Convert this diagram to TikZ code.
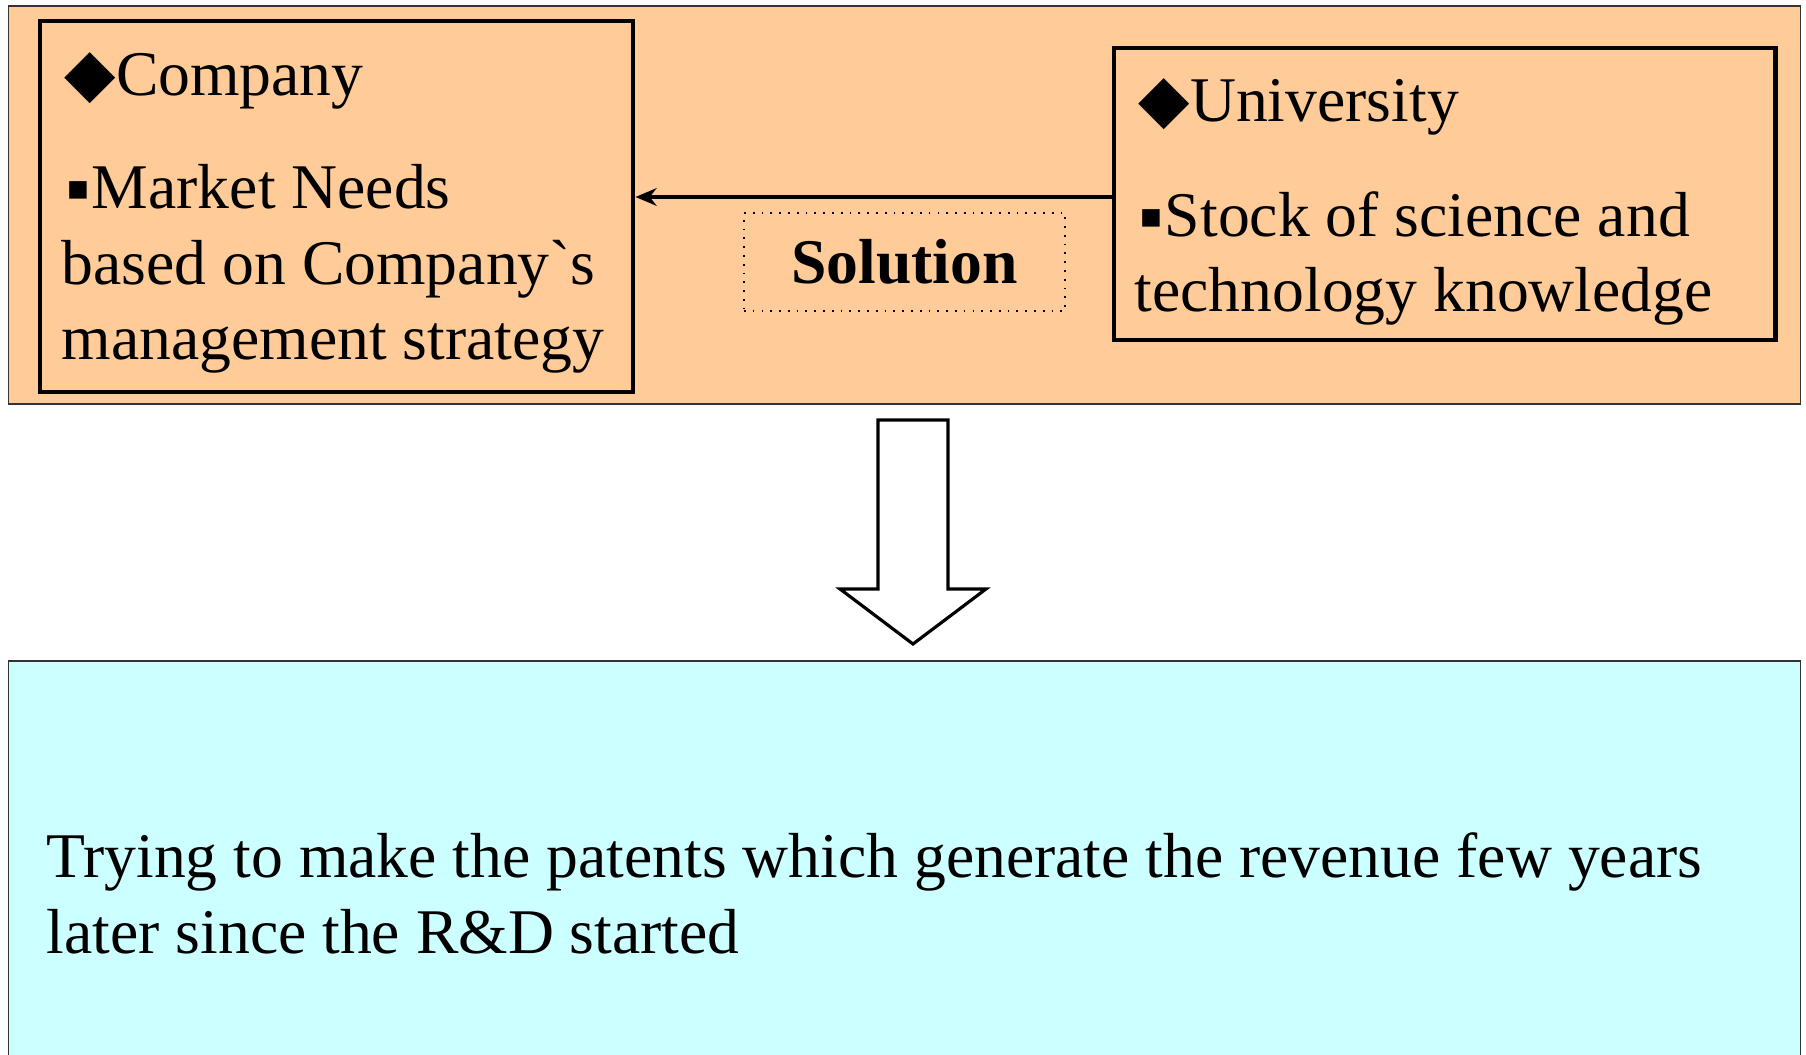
\documentclass[tikz,border=0pt]{standalone}
\usepackage{fontspec}
\setmainfont{Liberation Serif}[Ligatures=TeXOff]
\newfontfamily\symfont{DejaVu Sans}
\usepackage{tikz}
\usetikzlibrary{arrows.meta}
\definecolor{peach}{HTML}{FFCC99}
\definecolor{paleblue}{HTML}{CCFFFF}
\newcommand{\dia}{{\symfont\fontsize{19}{19}\selectfont ◆}}
\newcommand{\sq}{\hspace{0.08em}\raisebox{2.4pt}{\symfont\fontsize{10}{10}\selectfont ▪}\hspace{0.02em}}

\begin{document}
\begin{tikzpicture}[x=0.01cm, y=-0.01cm,
        panel/.style={draw=black!80, line width=0.5pt, inner sep=0},
        frame/.style={draw, line width=1.3pt, inner sep=0},
        txt/.style={inner sep=0, align=left, font=\fontsize{18.1}{21.6}\selectfont}]
        \clip (0,0) rectangle (1806,1055);
        % top panel with the two partners
        \node[panel, fill=peach, minimum width=17.91cm, minimum height=3.98cm] (top) at (904.5,205) {};
        \node[frame, minimum width=5.93cm, minimum height=3.71cm] (company) at (336.5,206.5) {};
        \node[frame, minimum width=6.61cm, minimum height=2.92cm] (univ) at (1444.5,194) {};
        % base of a multi-line node = baseline of its last line
        \node[txt, anchor=base west] (comphead) at (64,96) {\dia Company};
        \node[txt, anchor=base west] (compbody) at (61,360) {\sq Market Needs\\based on Company`s\\management strategy};
        \node[txt, anchor=base west] (univhead) at (1138,122) {\dia University};
        \node[txt, anchor=base west] (univbody) at (1134,312) {\sq Stock of science and\\technology knowledge};
        \node[draw, dotted, line width=0.5pt, minimum width=3.21cm, minimum height=0.98cm, font=\fontsize{18.1}{21.6}\selectfont\bfseries] (solution) at (904.5,262) {Solution};
        \draw[line width=1.1pt, -{Stealth[length=6pt, width=5pt]}] ([yshift=-0.85pt]univ.west) -- ([yshift=-0.85pt]univ.west -| company.east);
        % result panel
        \node[panel, fill=paleblue, minimum width=17.91cm, minimum height=4.6cm] (goal) at (904.5,891) {};
        \node[txt, anchor=base west] (goaltext) at (46,953) {Trying to make the patents which generate the revenue few years\\later since the R\&D started};
        % block arrow
        \draw[line width=0.9pt, fill=white] (878,420) -- (948,420) -- (948,589) -- (986,589) -- (913,644) -- (840,589) -- (878,589) -- cycle;
\end{tikzpicture}
\end{document}
